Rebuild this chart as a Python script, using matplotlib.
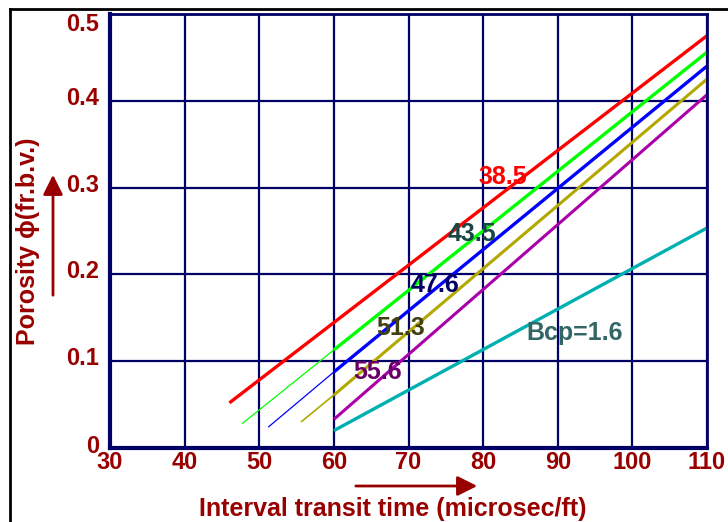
import matplotlib
matplotlib.use("Agg")
import matplotlib.pyplot as plt
import matplotlib.transforms as mtransforms
from matplotlib.lines import Line2D

plt.rcParams['font.family'] = ['Liberation Sans', 'DejaVu Sans']
plt.rcParams['font.weight'] = 'bold'

# Data
red_x = [46.0, 110.0]
red_y = [0.052, 0.475]
green_x = [47.7, 60.0, 110.0]
green_y = [0.028, 0.113, 0.456]
blue_x = [51.2, 60.0, 110.0]
blue_y = [0.024, 0.0876, 0.440]
olive_x = [55.6, 60.0, 110.0]
olive_y = [0.030, 0.061, 0.425]
purple_x = [60.0, 110.0]
purple_y = [0.033, 0.407]
teal_x = [60.0, 110.0]
teal_y = [0.020, 0.2535]

x_ticks = [30, 40, 50, 60, 70, 80, 90, 100, 110]
x_ticklabels = ['30', '40', '50', '60', '70', '80', '90', '100', '110']
y_ticks = [0, 0.1, 0.2, 0.3, 0.4, 0.5]
y_ticklabels = ['0', '0.1', '0.2', '0.3', '0.4', '0.5']

labels = ['38.5', '43.5', '47.6', '51.3', '55.6', 'Bcp=1.6']
label_x = [82.7, 78.5, 73.6, 68.9, 65.9, 92.2]
label_y = [0.312, 0.2465, 0.188, 0.138, 0.0876, 0.1325]
label_colors = ['#FF0000', '#1A4545', '#000066', '#404010', '#660066', '#336666']

DARKRED = '#990000'
NAVY = '#000066'

fig = plt.figure(figsize=(7.28, 5.22), dpi=100)
ax = fig.add_axes([110/728, 74/522, 597/728, 434/522])

ax.set_xlim(30, 110)
ax.set_ylim(0, 0.5)
ax.set_xticks(x_ticks)
ax.set_yticks(y_ticks)
ax.grid(True, color=NAVY, linewidth=1.6)
ax.set_axisbelow(True)
for s in ax.spines.values():
    s.set_color(NAVY)
    s.set_linewidth(2.0)
ax.spines['bottom'].set_linewidth(3.0)
ax.spines['left'].set_linewidth(3.0)
ax.tick_params(axis='x', length=0, pad=2)
ax.tick_params(axis='y', length=0, pad=8)
ax.set_xticklabels(x_ticklabels, fontsize=17, fontweight='bold', color=DARKRED)
ax.set_yticklabels(y_ticklabels, fontsize=17, fontweight='bold', color=DARKRED)
y_offsets = [4, 5, 5, 5, 5, -8]
for lab, dy in zip(ax.get_yticklabels(), y_offsets):
    lab.set_transform(lab.get_transform() + mtransforms.ScaledTranslation(0, dy / 100, fig.dpi_scale_trans))

def seg(xs, ys, color, thin, thick):
    if len(xs) == 3:
        ax.plot(xs[:2], ys[:2], color=color, linewidth=thin, solid_capstyle='butt')
        ax.plot(xs[1:], ys[1:], color=color, linewidth=thick, solid_capstyle='butt')
    else:
        ax.plot(xs, ys, color=color, linewidth=thick, solid_capstyle='butt')

seg(red_x, red_y, '#FF0000', 2.4, 2.4)
seg(green_x, green_y, '#00FF00', 0.9, 2.4)
seg(blue_x, blue_y, '#0000FF', 0.9, 2.4)
seg(olive_x, olive_y, '#B3A800', 1.2, 2.2)
seg(purple_x, purple_y, '#AA00AA', 2.2, 2.2)
seg(teal_x, teal_y, '#00B0B0', 2.4, 2.4)

for t, lx, ly, c in zip(labels, label_x, label_y, label_colors):
    ax.text(lx, ly, t, color=c, fontsize=18, fontweight='bold', ha='center', va='center')

# Axis titles
fig.text(28/728, 1 - 241/522, 'Porosity \u03d5(fr.b.v.)', rotation=90, ha='center', va='center',
         fontsize=18, fontweight='bold', color=DARKRED)
fig.text(393/728, 1 - 509/522, 'Interval transit time (microsec/ft)', ha='center', va='center',
         fontsize=18, fontweight='bold', color=DARKRED)

# Arrows
fig.patches.append(matplotlib.patches.FancyArrowPatch(
    (53/728, 1 - 298/522), (53/728, 1 - 172/522), transform=fig.transFigure,
    arrowstyle='-|>,head_length=6,head_width=3', mutation_scale=2, color=DARKRED, linewidth=2))
fig.patches.append(matplotlib.patches.FancyArrowPatch(
    (353/728, 1 - 486/522), (480/728, 1 - 486/522), transform=fig.transFigure,
    arrowstyle='-|>,head_length=6,head_width=3', mutation_scale=2, color=DARKRED, linewidth=2))

# Outer frame
fig.add_artist(Line2D([10/728, 10/728], [0, 1 - 9/522], transform=fig.transFigure, color='black', linewidth=2))
fig.add_artist(Line2D([10/728, 1], [1 - 9/522, 1 - 9/522], transform=fig.transFigure, color='black', linewidth=2))

fig.savefig('out.png', dpi=100)
